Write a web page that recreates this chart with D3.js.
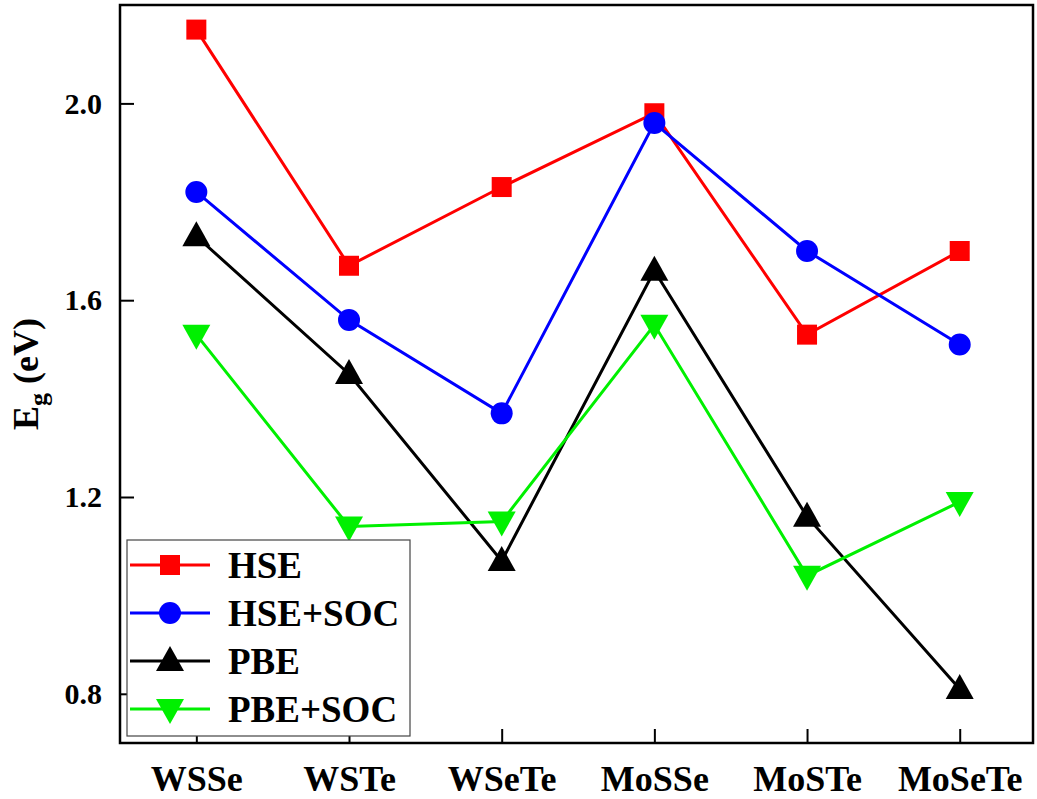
<!DOCTYPE html>
<html>
<head>
<meta charset="utf-8">
<script src="https://cdn.jsdelivr.net/npm/d3@7"></script>
<style>
	body { margin: 0; background: #fff; }
	svg text { font-family: "Liberation Serif", "Times New Roman", Times, serif !important; font-weight: bold; }
</style>
</head>
<body>
<div id="chart"></div>
<script>
// data
const materials = ["WSSe", "WSTe", "WSeTe", "MoSSe", "MoSTe", "MoSeTe"];
const hse = [2.15, 1.67, 1.83, 1.98, 1.53, 1.70];
const hseSoc = [1.82, 1.56, 1.37, 1.96, 1.70, 1.51];
const pbe = [1.73, 1.45, 1.07, 1.66, 1.16, 0.81];
const pbeSoc = [1.53, 1.14, 1.15, 1.55, 1.04, 1.19];
const yTicks = [0.8, 1.2, 1.6, 2.0];

const serif = "'Liberation Serif', 'Times New Roman', Times, serif";

const series = [
	{ name: "HSE", values: hse, color: "#ff0000", shape: "square" },
	{ name: "HSE+SOC", values: hseSoc, color: "#0000ff", shape: "circle" },
	{ name: "PBE", values: pbe, color: "#000000", shape: "up" },
	{ name: "PBE+SOC", values: pbeSoc, color: "#00f000", shape: "down" }
];

const width = 1037;
const height = 799;
const margin = { left: 120, top: 5, right: 4, bottom: 56 };

const svg = d3.select("#chart")
	.append("svg")
	.attr("width", width)
	.attr("height", height)
	.attr("font-family", serif)
	.attr("font-weight", "bold");

const x = d3.scaleLinear()
	.domain([-0.5, 5.48])
	.range([margin.left, width - margin.right]);

const y = d3.scaleLinear()
	.domain([0.7, 2.2])
	.range([height - margin.bottom, margin.top]);

// marker path builder
function markerPath(shape, cx, cy) {
	const p = d3.path();
	if (shape == "square") {
		p.rect(cx - 10, cy - 10, 20, 20);
	} else if (shape == "circle") {
		p.arc(cx, cy, 11, 0, 2 * Math.PI);
	} else if (shape == "up") {
		p.moveTo(cx, cy - 15);
		p.lineTo(cx + 14, cy + 10);
		p.lineTo(cx - 14, cy + 10);
		p.closePath();
	} else {
		p.moveTo(cx, cy + 15);
		p.lineTo(cx + 14, cy - 10);
		p.lineTo(cx - 14, cy - 10);
		p.closePath();
	}
	return p.toString();
}

// axes (ticks point inward)
svg.append("g")
	.attr("transform", "translate(" + margin.left + ",0)")
	.call(d3.axisLeft(y).tickValues(yTicks).tickFormat(d3.format(".1f")).tickSizeInner(-14).tickSizeOuter(0).tickPadding(18))
	.attr("font-family", serif)
	.call(g => g.select(".domain").remove())
	.call(g => g.selectAll("line").attr("stroke-width", 2))
	.call(g => g.selectAll("text").attr("font-size", 30).attr("font-family", serif).attr("font-weight", "bold").attr("fill", "#000"));

svg.append("g")
	.attr("transform", "translate(0," + (height - margin.bottom) + ")")
	.call(d3.axisBottom(x).tickValues(d3.range(materials.length)).tickFormat(i => materials[i]).tickSizeInner(-14).tickSizeOuter(0).tickPadding(22))
	.attr("font-family", serif)
	.call(g => g.select(".domain").remove())
	.call(g => g.selectAll("line").attr("stroke-width", 2))
	.call(g => g.selectAll("text").attr("font-size", 36).attr("font-family", serif).attr("font-weight", "bold").attr("fill", "#000"));

// frame
svg.append("rect")
	.attr("x", margin.left)
	.attr("y", margin.top)
	.attr("width", width - margin.left - margin.right)
	.attr("height", height - margin.top - margin.bottom)
	.attr("fill", "none")
	.attr("stroke", "#000")
	.attr("stroke-width", 2.5);

// y title
const yTitle = svg.append("text")
	.attr("transform", "translate(38," + y(1.45) + ") rotate(-90)")
	.attr("text-anchor", "middle")
	.attr("font-size", 36)
	.attr("fill", "#000");
yTitle.append("tspan").text("E");
yTitle.append("tspan").attr("font-size", 26).attr("dy", 9).text("g");
yTitle.append("tspan").attr("dy", -9).text(" (eV)");

// lines and markers
const line = d3.line()
	.x((d, i) => x(i))
	.y(d => y(d));

series.forEach(s => {
	svg.append("path")
		.attr("d", line(s.values))
		.attr("fill", "none")
		.attr("stroke", s.color)
		.attr("stroke-width", 3);

	svg.append("g")
		.selectAll("path")
		.data(s.values)
		.enter()
		.append("path")
		.attr("d", (d, i) => markerPath(s.shape, x(i), y(d)))
		.attr("fill", s.color);
});

// legend
const legend = svg.append("g");
legend.append("rect")
	.attr("x", 127)
	.attr("y", 540)
	.attr("width", 283)
	.attr("height", 196)
	.attr("fill", "#fff")
	.attr("stroke", "#444")
	.attr("stroke-width", 1.2);

series.forEach((s, i) => {
	const ly = 565 + i * 48;
	legend.append("line")
		.attr("x1", 130)
		.attr("x2", 210)
		.attr("y1", ly)
		.attr("y2", ly)
		.attr("stroke", s.color)
		.attr("stroke-width", 3);
	legend.append("path")
		.attr("d", markerPath(s.shape, 170, ly))
		.attr("fill", s.color);
	legend.append("text")
		.attr("x", 228)
		.attr("y", ly + 13)
		.attr("font-size", 37)
		.attr("fill", "#000")
		.text(s.name);
});
</script>
</body>
</html>
